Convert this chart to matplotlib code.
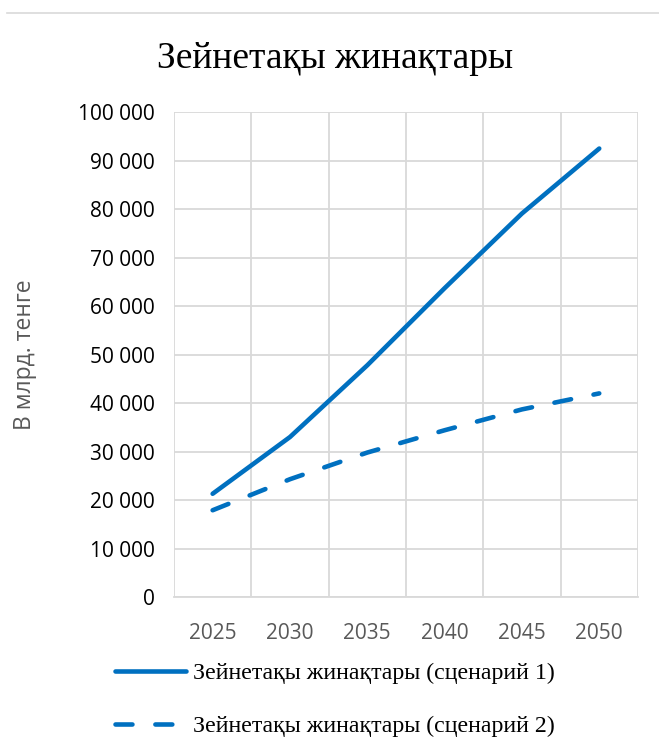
import matplotlib
matplotlib.use("Agg")
import matplotlib.pyplot as plt
from matplotlib.lines import Line2D
from matplotlib.ticker import FuncFormatter, MultipleLocator

# Pension savings, bn tenge
years = ["2025", "2030", "2035", "2040", "2045", "2050"]
scenario_1 = [21300, 33000, 47800, 63700, 79100, 92500]
scenario_2 = [17900, 24300, 29800, 34400, 38700, 42000]

title = "Зейнетақы жинақтары"
label_1 = "Зейнетақы жинақтары (сценарий 1)"
label_2 = "Зейнетақы жинақтары (сценарий 2)"
y_label = "В млрд. тенге"

BLUE = "#0070C0"
GRID = "#d9d9d9"
TICK_FONT = "Open Sans"
SERIF = "Liberation Serif"


def thousands(v, pos):
    return f"{int(v):,}".replace(",", " ")


def main():
    fig = plt.figure(figsize=(6.59, 7.38), dpi=100)
    ax = fig.add_axes([0.264, 0.191, 0.704, 0.657])

    x = list(range(len(years)))
    ax.plot(x, scenario_1, color=BLUE, lw=3.3, solid_capstyle="round",
            solid_joinstyle="round", label=label_1)
    line2, = ax.plot(x, scenario_2, color=BLUE, lw=3.3, dash_capstyle="round",
                     label=label_2)
    line2.set_dashes((3.7, 5.0))

    ax.set_xlim(-0.5, len(years) - 0.5)
    ax.set_ylim(0, 100000)
    ax.yaxis.set_major_locator(MultipleLocator(10000))
    ax.yaxis.set_major_formatter(FuncFormatter(thousands))
    ax.set_xticks(x)
    ax.set_xticklabels(years)
    ax.set_xticks([i - 0.5 for i in range(len(years) + 1)], minor=True)

    ax.grid(axis="y", which="major", color=GRID, lw=1.3)
    ax.grid(axis="x", which="minor", color=GRID, lw=1.3)
    ax.set_axisbelow(True)
    for side in ("top", "right", "left"):
        ax.spines[side].set_visible(False)
    ax.spines["bottom"].set_color(GRID)
    ax.spines["bottom"].set_linewidth(1.3)
    ax.tick_params(which="both", length=0)
    ax.tick_params(axis="y", pad=14, labelsize=15, labelcolor="black")
    ax.tick_params(axis="x", pad=19, labelsize=15, labelcolor="#595959")
    for lab in ax.get_xticklabels() + ax.get_yticklabels():
        lab.set_fontfamily(TICK_FONT)

    ax.set_ylabel(y_label, fontsize=16.5, color="#595959", family=TICK_FONT)
    ax.yaxis.set_label_coords(-0.295, 0.5)

    fig.text(0.508, 0.92, title, ha="center", va="center",
             fontsize=27, family=SERIF, color="black")

    # thin border along the top of the chart area
    fig.add_artist(Line2D([7 / 659, 1.0], [1 - 13 / 738, 1 - 13 / 738],
                          color=GRID, lw=1.2, transform=fig.transFigure))

    fig.legend(loc="upper left", bbox_to_anchor=(0.174, 0.102),
               frameon=False, prop={"family": SERIF, "size": 17.2},
               handlelength=3.0, handletextpad=0.3, labelspacing=1.3,
               borderaxespad=0, borderpad=0)

    fig.savefig("out.png", dpi=100, facecolor="white")


if __name__ == "__main__":
    main()
